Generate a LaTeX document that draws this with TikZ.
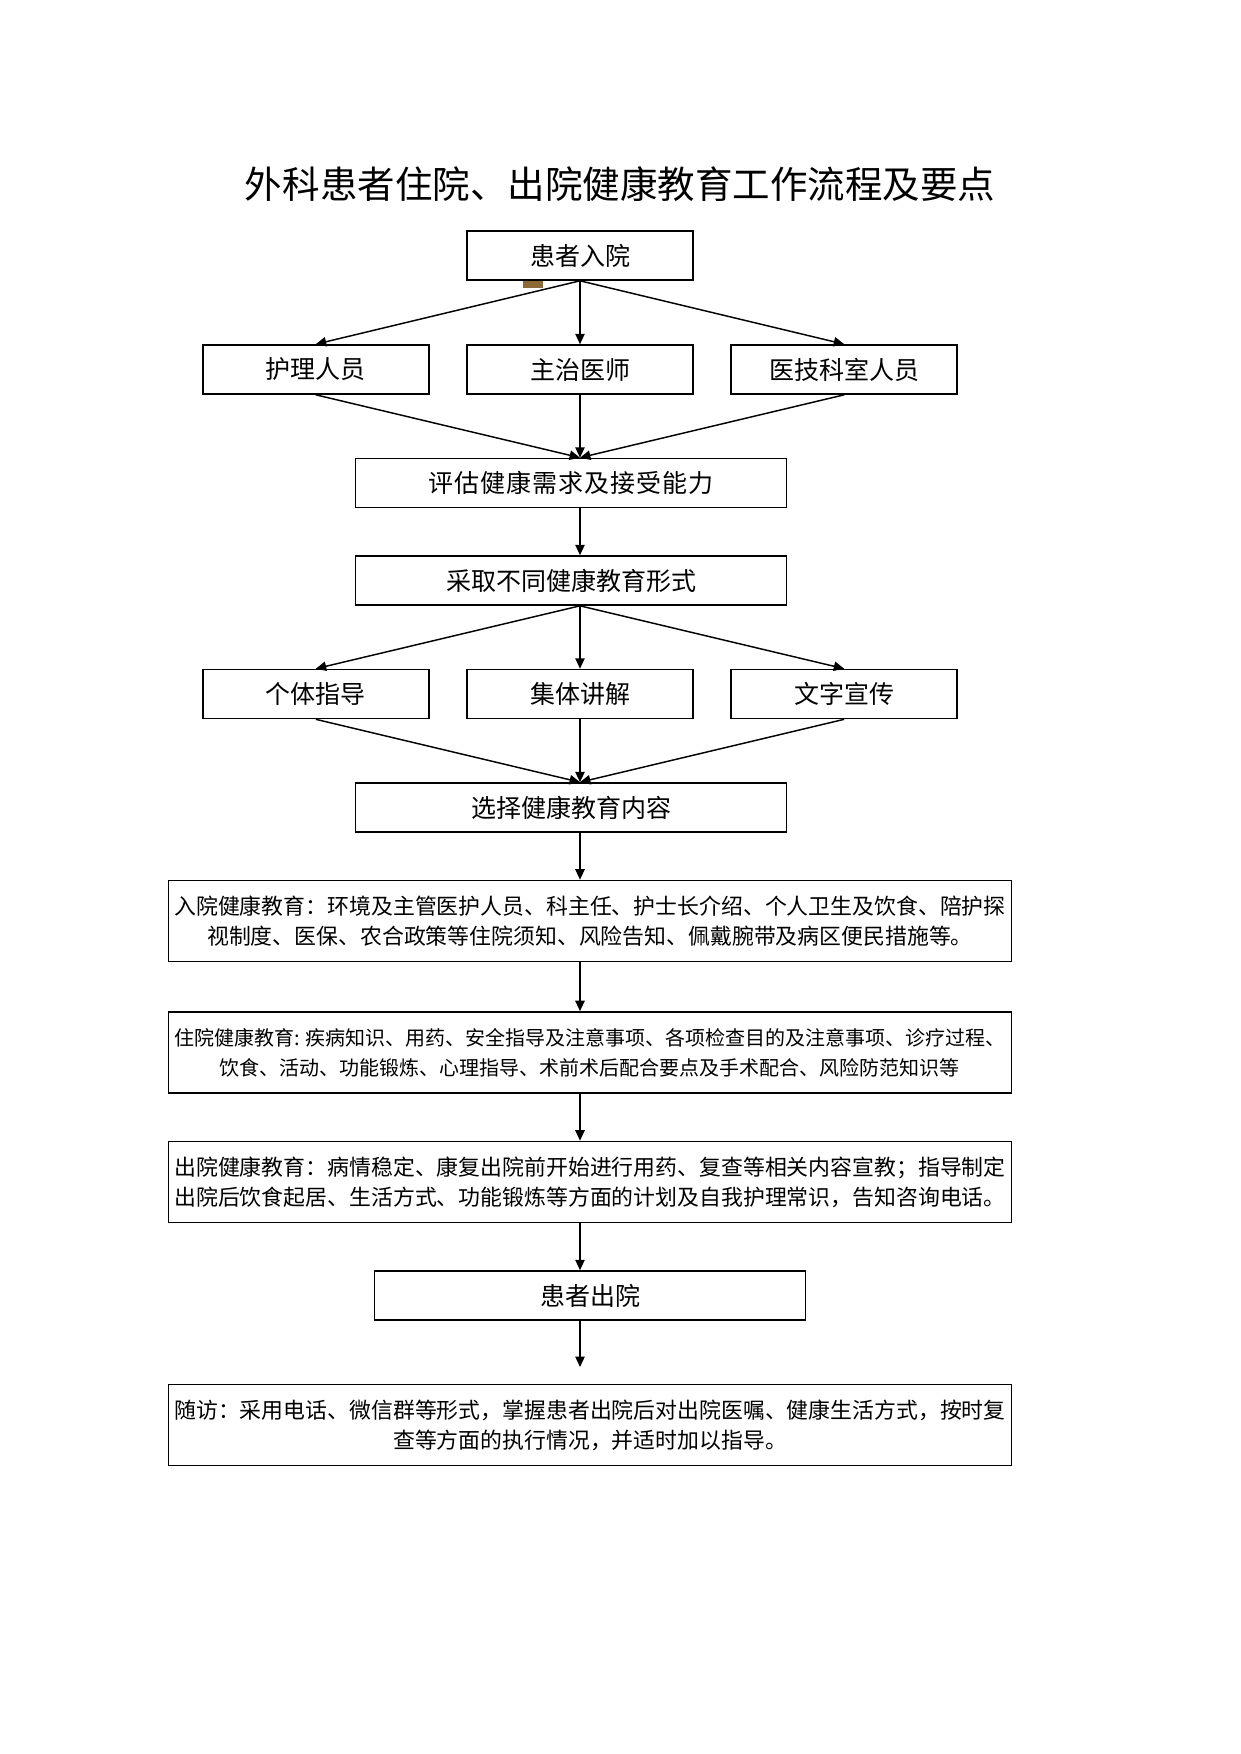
\documentclass[tikz,border=0pt]{standalone}
\usepackage{fontspec}
\usepackage{tikz}
\usetikzlibrary{arrows.meta, positioning}
\newfontfamily\cjk{Noto Sans CJK SC}
\newfontfamily\cjkwide[LetterSpace=4]{Noto Sans CJK SC}
\definecolor{smudge}{RGB}{140,105,55}

\begin{document}
\begin{tikzpicture}[
  x=0.48pt, y=-0.48pt,
  node distance=17.5pt,
  box/.style={draw, line width=0.8pt, align=center, inner sep=2pt, font=\cjk\fontsize{12pt}{14pt}\selectfont, minimum height=23.5pt},
  smallbox/.style={box, minimum width=108.5pt},
  midbox/.style={box, minimum width=207pt},
  textbox/.style={draw, line width=0.8pt, align=center, inner xsep=0.5pt, font=\cjk\fontsize{10.5pt}{14.5pt}\selectfont, minimum width=404.6pt, minimum height=38.9pt},
  arrow/.style={-{Triangle[length=5pt, width=4.5pt]}, line width=0.7pt}
]
\useasboundingbox (0,0) rectangle (1241,1754);

\node[font=\cjk\fontsize{18pt}{20pt}\selectfont] (title) at (620,184) {外科患者住院、出院健康教育工作流程及要点};

\node[smallbox] (admit) at (580,255.5) {患者入院};
\node[smallbox] (doctor) at (580,369.5) {主治医师};
\node[smallbox, left=of doctor] (nurse) {护理人员};
\node[smallbox, right=of doctor] (tech) {医技科室人员};
\node[midbox, font=\cjkwide\fontsize{12pt}{14pt}\selectfont] (assess) at (571,483) {评估健康需求及接受能力};
\node[midbox] (form) at (571,580.5) {采取不同健康教育形式};
\node[smallbox] (group) at (580,694) {集体讲解};
\node[smallbox, left=of group] (indiv) {个体指导};
\node[smallbox, right=of group] (leaflet) {文字宣传};
\node[midbox] (content) at (571,807.5) {选择健康教育内容};

\node[textbox] (inedu) at (590,921) {入院健康教育：环境及主管医护人员、科主任、护士长介绍、个人卫生及饮食、陪护探\\视制度、医保、农合政策等住院须知、风险告知、佩戴腕带及病区便民措施等。};
\node[textbox, font=\cjk\fontsize{9.6pt}{14.5pt}\selectfont] (stayedu) at (590,1052.5) {住院健康教育: 疾病知识、用药、安全指导及注意事项、各项检查目的及注意事项、诊疗过程、\\饮食、活动、功能锻炼、心理指导、术前术后配合要点及手术配合、风险防范知识等};
\node[textbox] (outedu) at (590,1182) {出院健康教育：病情稳定、康复出院前开始进行用药、复查等相关内容宣教；指导制定\\出院后饮食起居、生活方式、功能锻炼等方面的计划及自我护理常识，告知咨询电话。};
\node[midbox] (discharge) at (590,1295.5) {患者出院};
\node[textbox] (follow) at (590,1425) {随访：采用电话、微信群等形式，掌握患者出院后对出院医嘱、健康生活方式，按时复\\查等方面的执行情况，并适时加以指导。};

\fill[smudge] (523,281) rectangle (543,288);

\draw[arrow] (admit.south) -- (nurse.north);
\draw[arrow] (admit.south) -- (doctor.north);
\draw[arrow] (admit.south) -- (tech.north);
\draw[arrow] (nurse.south) -- (assess.north -| doctor);
\draw[arrow] (doctor.south) -- (assess.north -| doctor);
\draw[arrow] (tech.south) -- (assess.north -| doctor);
\draw[arrow] (assess.south -| doctor) -- (form.north -| doctor);
\draw[arrow] (form.south -| doctor) -- (indiv.north);
\draw[arrow] (form.south -| doctor) -- (group.north);
\draw[arrow] (form.south -| doctor) -- (leaflet.north);
\draw[arrow] (indiv.south) -- (content.north -| group);
\draw[arrow] (group.south) -- (content.north -| group);
\draw[arrow] (leaflet.south) -- (content.north -| group);
\draw[arrow] (content.south -| group) -- (inedu.north -| group);
\draw[arrow] (inedu.south -| group) -- (stayedu.north -| group);
\draw[arrow] (stayedu.south -| group) -- (outedu.north -| group);
\draw[arrow] (outedu.south -| group) -- (discharge.north -| group);
\draw[arrow, shorten >=8pt] (discharge.south -| group) -- (follow.north -| group);
\end{tikzpicture}
\end{document}
